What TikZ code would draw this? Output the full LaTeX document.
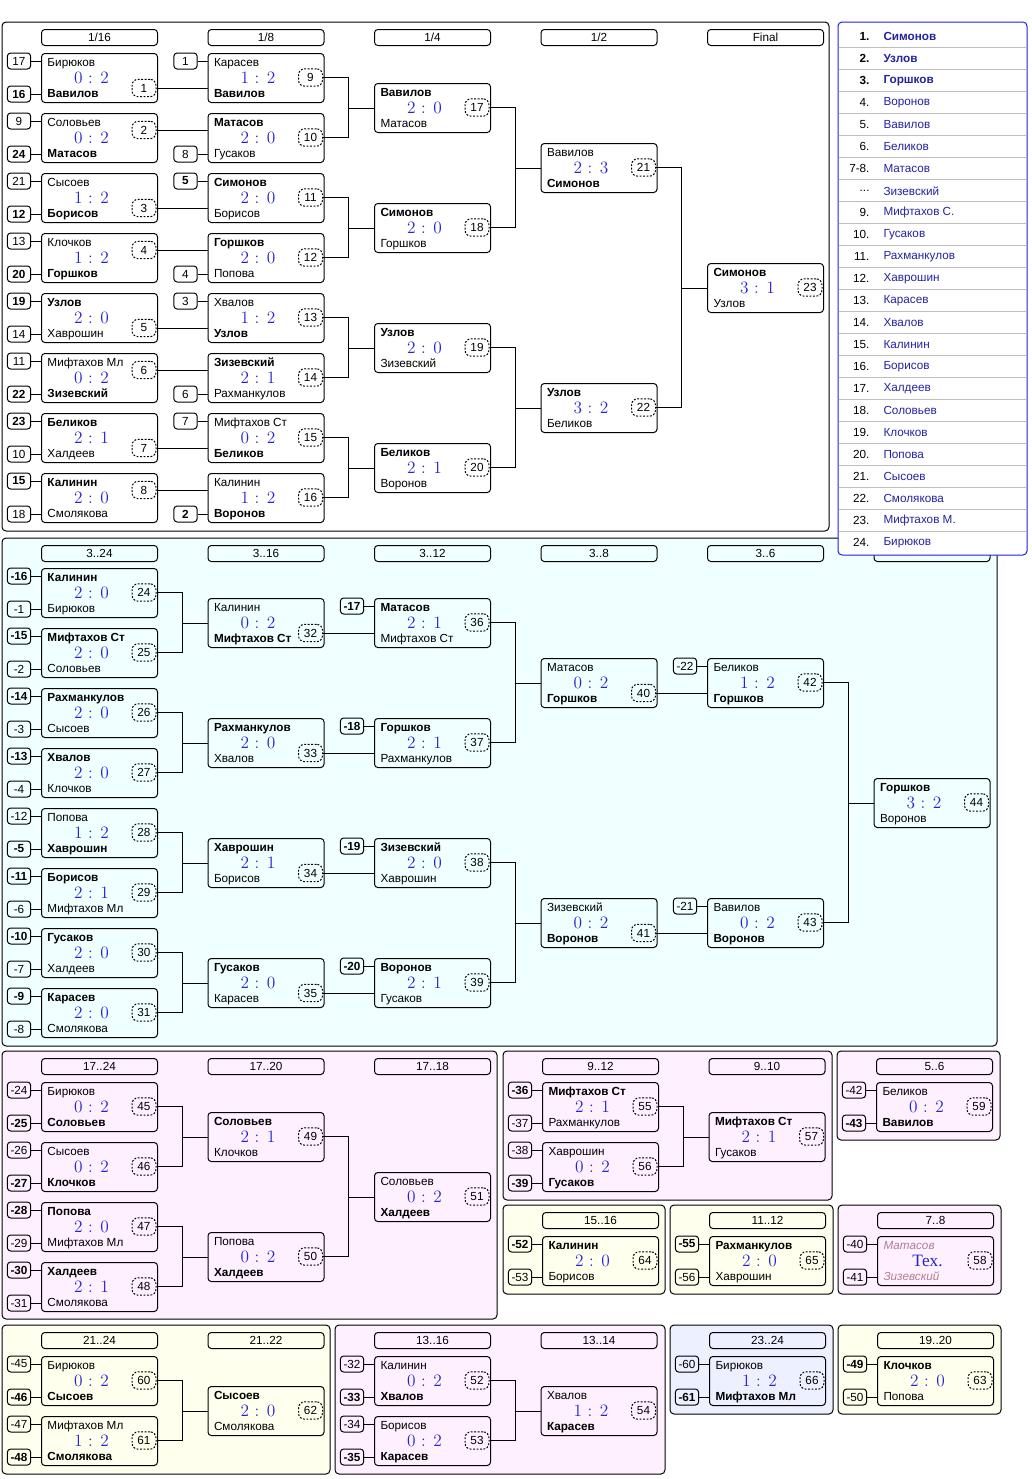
\documentclass[tikz,border=0pt]{standalone}
\usepackage{fontspec}
\setsansfont{Liberation Sans}
\newfontfamily\techfont{Liberation Serif}
\usetikzlibrary{calc}

\definecolor{scoreblue}{RGB}{36,36,210}
\definecolor{rankblue}{RGB}{36,36,160}
\definecolor{rankedge}{RGB}{30,30,230}
\definecolor{rankrulec}{RGB}{190,190,190}
\definecolor{forfeitrose}{RGB}{176,128,144}
\definecolor{cyanbg}{RGB}{240,255,255}
\definecolor{pinkbg}{RGB}{255,240,255}
\definecolor{ivorybg}{RGB}{255,255,238}
\definecolor{lavbg}{RGB}{236,240,255}

\tikzset{
    region/.style={draw=black,rounded corners=3pt},
    roundhead/.style={draw,rounded corners=2.5pt,anchor=north west,inner sep=0pt,minimum width=87pt,minimum height=12pt,font=\sffamily\fontsize{8.8}{10}\selectfont},
    gamebox/.style={draw,rounded corners=2.5pt,anchor=north west,inner sep=0pt,minimum width=87pt,minimum height=36.75pt},
    seedbox/.style={draw,rounded corners=2.5pt,inner sep=0pt,minimum width=17.5pt,minimum height=12pt,font=\sffamily\fontsize{8.8}{10}\selectfont},
    gamenum/.style={draw,dash pattern=on 1.4pt off 1.2pt,rounded corners=4.5pt,anchor=east,inner sep=0pt,minimum width=18pt,minimum height=13pt,font=\sffamily\fontsize{8.8}{10}\selectfont},
    player/.style={anchor=base west,inner sep=0pt,font=\sffamily\fontsize{8.8}{10}\selectfont},
    score/.style={inner sep=0pt,text=scoreblue,font=\rmfamily\fontsize{13}{13}\selectfont},
    rankframe/.style={draw=rankedge,fill=white,rounded corners=3pt},
    rankrule/.style={draw=rankrulec},
    rankno/.style={anchor=east,inner sep=0pt,font=\sffamily\fontsize{8.8}{10}\selectfont},
    rankname/.style={anchor=west,inner sep=0pt,text=rankblue,font=\sffamily\fontsize{8.8}{10}\selectfont}
}

\newcommand{\game}[7]{%
  \node[gamebox] (m#1) at (#2,#3) {};
  \node[player] (t#1) at (#2+6,#3+13.3) {#4};
  \node[score] (r#1) at (#2+50.5,#3+24.5) {#5};
  \node[player] (b#1) at (#2+6,#3+44) {#6};
  \node[gamenum] (n#1) at (#2+115.5,#3+#7) {#1};
}
\newcommand{\seedtop}[2]{%
  \node[seedbox] (s#1a) at ($(m#1.north west)+(-22,8)$) {#2};
  \draw (s#1a.east) -- (s#1a.east -| m#1.west);
}
\newcommand{\seedbot}[2]{%
  \node[seedbox] (s#1b) at ($(m#1.north west)+(-22,41)$) {#2};
  \draw (s#1b.east) -- (s#1b.east -| m#1.west);
}
\newcommand{\forfeit}[1]{\textcolor{forfeitrose}{\itshape #1}}
\newcommand{\sharedplace}{...}

\begin{document}
\begin{tikzpicture}[x=0.75pt,y=-0.75pt,line width=0.75pt]
\useasboundingbox (0,0) rectangle (1032,1479);

\draw[region,fill=white] (2,22) rectangle (829,531);
\draw[region,fill=cyanbg] (2,538) rectangle (997,1046);
\draw[region,fill=pinkbg] (2,1051) rectangle (497,1319);
\draw[region,fill=pinkbg] (503,1051) rectangle (832,1200);
\draw[region,fill=pinkbg] (837,1051) rectangle (1000,1140);
\draw[region,fill=ivorybg] (503,1205) rectangle (665,1294);
\draw[region,fill=ivorybg] (670,1205) rectangle (833,1294);
\draw[region,fill=pinkbg] (838,1205) rectangle (1001,1294);
\draw[region,fill=ivorybg] (2,1325) rectangle (330,1474);
\draw[region,fill=pinkbg] (335,1325) rectangle (665,1474);
\draw[region,fill=lavbg] (670,1325) rectangle (833,1414);
\draw[region,fill=ivorybg] (838,1325) rectangle (1001,1414);

\node[roundhead] (hT1) at (41,29) {1/16};
\node[roundhead] (hT2) at (207.5,29) {1/8};
\node[roundhead] (hT3) at (374,29) {1/4};
\node[roundhead] (hT4) at (540.5,29) {1/2};
\node[roundhead] (hT5) at (707,29) {Final};
\node[roundhead] (hC1) at (41,545) {3..24};
\node[roundhead] (hC2) at (207.5,545) {3..16};
\node[roundhead] (hC3) at (374,545) {3..12};
\node[roundhead] (hC4) at (540.5,545) {3..8};
\node[roundhead] (hC5) at (707,545) {3..6};
\node[roundhead] (hC6) at (873.5,545) {};
\node[roundhead] (hP1) at (41,1058) {17..24};
\node[roundhead] (hP2) at (207.5,1058) {17..20};
\node[roundhead] (hP3) at (374,1058) {17..18};
\node[roundhead] (hQ1) at (542,1058) {9..12};
\node[roundhead] (hQ2) at (708.5,1058) {9..10};
\node[roundhead] (hR1) at (876,1058) {5..6};
\node[roundhead] (hS1) at (542,1212) {15..16};
\node[roundhead] (hS2) at (709,1212) {11..12};
\node[roundhead] (hS3) at (877,1212) {7..8};
\node[roundhead] (hU1) at (41,1332) {21..24};
\node[roundhead] (hU2) at (207.5,1332) {21..22};
\node[roundhead] (hV1) at (374,1332) {13..16};
\node[roundhead] (hV2) at (540.5,1332) {13..14};
\node[roundhead] (hW1) at (709,1332) {23..24};
\node[roundhead] (hW2) at (877,1332) {19..20};

\game{1}{41}{53}{Бирюков}{0 : 2}{\textbf{Вавилов}}{35}
\game{2}{41}{113}{Соловьев}{0 : 2}{\textbf{Матасов}}{17}
\game{3}{41}{173}{Сысоев}{1 : 2}{\textbf{Борисов}}{35}
\game{4}{41}{233}{Клочков}{1 : 2}{\textbf{Горшков}}{17}
\game{5}{41}{293}{\textbf{Узлов}}{2 : 0}{Хаврошин}{35}
\game{6}{41}{353}{Мифтахов Мл}{0 : 2}{\textbf{Зизевский}}{17}
\game{7}{41}{413}{\textbf{Беликов}}{2 : 1}{Халдеев}{35}
\game{8}{41}{473}{\textbf{Калинин}}{2 : 0}{Смолякова}{17}
\game{9}{207.5}{53}{Карасев}{1 : 2}{\textbf{Вавилов}}{24.5}
\game{10}{207.5}{113}{\textbf{Матасов}}{2 : 0}{Гусаков}{24.5}
\game{11}{207.5}{173}{\textbf{Симонов}}{2 : 0}{Борисов}{24.5}
\game{12}{207.5}{233}{\textbf{Горшков}}{2 : 0}{Попова}{24.5}
\game{13}{207.5}{293}{Хвалов}{1 : 2}{\textbf{Узлов}}{24.5}
\game{14}{207.5}{353}{\textbf{Зизевский}}{2 : 1}{Рахманкулов}{24.5}
\game{15}{207.5}{413}{Мифтахов Ст}{0 : 2}{\textbf{Беликов}}{24.5}
\game{16}{207.5}{473}{Калинин}{1 : 2}{\textbf{Воронов}}{24.5}
\game{17}{374}{83}{\textbf{Вавилов}}{2 : 0}{Матасов}{24.5}
\game{18}{374}{203}{\textbf{Симонов}}{2 : 0}{Горшков}{24.5}
\game{19}{374}{323}{\textbf{Узлов}}{2 : 0}{Зизевский}{24.5}
\game{20}{374}{443}{\textbf{Беликов}}{2 : 1}{Воронов}{24.5}
\game{21}{540.5}{143}{Вавилов}{2 : 3}{\textbf{Симонов}}{24.5}
\game{22}{540.5}{383}{\textbf{Узлов}}{3 : 2}{Беликов}{24.5}
\game{23}{707}{263}{\textbf{Симонов}}{3 : 1}{Узлов}{24.5}

\game{24}{41}{568}{\textbf{Калинин}}{2 : 0}{Бирюков}{24.5}
\game{25}{41}{628}{\textbf{Мифтахов Ст}}{2 : 0}{Соловьев}{24.5}
\game{26}{41}{688}{\textbf{Рахманкулов}}{2 : 0}{Сысоев}{24.5}
\game{27}{41}{748}{\textbf{Хвалов}}{2 : 0}{Клочков}{24.5}
\game{28}{41}{808}{Попова}{1 : 2}{\textbf{Хаврошин}}{24.5}
\game{29}{41}{868}{\textbf{Борисов}}{2 : 1}{Мифтахов Мл}{24.5}
\game{30}{41}{928}{\textbf{Гусаков}}{2 : 0}{Халдеев}{24.5}
\game{31}{41}{988}{\textbf{Карасев}}{2 : 0}{Смолякова}{24.5}
\game{32}{207.5}{598}{Калинин}{0 : 2}{\textbf{Мифтахов Ст}}{35}
\game{33}{207.5}{718}{\textbf{Рахманкулов}}{2 : 0}{Хвалов}{35}
\game{34}{207.5}{838}{\textbf{Хаврошин}}{2 : 1}{Борисов}{35}
\game{35}{207.5}{958}{\textbf{Гусаков}}{2 : 0}{Карасев}{35}
\game{36}{374}{598}{\textbf{Матасов}}{2 : 1}{Мифтахов Ст}{24.5}
\game{37}{374}{718}{\textbf{Горшков}}{2 : 1}{Рахманкулов}{24.5}
\game{38}{374}{838}{\textbf{Зизевский}}{2 : 0}{Хаврошин}{24.5}
\game{39}{374}{958}{\textbf{Воронов}}{2 : 1}{Гусаков}{24.5}
\game{40}{540.5}{658}{Матасов}{0 : 2}{\textbf{Горшков}}{35}
\game{41}{540.5}{898}{Зизевский}{0 : 2}{\textbf{Воронов}}{35}
\game{42}{707}{658}{Беликов}{1 : 2}{\textbf{Горшков}}{24.5}
\game{43}{707}{898}{Вавилов}{0 : 2}{\textbf{Воронов}}{24.5}
\game{44}{873.5}{778}{\textbf{Горшков}}{3 : 2}{Воронов}{24.5}

\game{45}{41}{1082}{Бирюков}{0 : 2}{\textbf{Соловьев}}{24.5}
\game{46}{41}{1142}{Сысоев}{0 : 2}{\textbf{Клочков}}{24.5}
\game{47}{41}{1202}{\textbf{Попова}}{2 : 0}{Мифтахов Мл}{24.5}
\game{48}{41}{1262}{\textbf{Халдеев}}{2 : 1}{Смолякова}{24.5}
\game{49}{207.5}{1112}{\textbf{Соловьев}}{2 : 1}{Клочков}{24.5}
\game{50}{207.5}{1232}{Попова}{0 : 2}{\textbf{Халдеев}}{24.5}
\game{51}{374}{1172}{Соловьев}{0 : 2}{\textbf{Халдеев}}{24.5}
\game{55}{542}{1082}{\textbf{Мифтахов Ст}}{2 : 1}{Рахманкулов}{24.5}
\game{56}{542}{1142}{Хаврошин}{0 : 2}{\textbf{Гусаков}}{24.5}
\game{57}{708.5}{1112}{\textbf{Мифтахов Ст}}{2 : 1}{Гусаков}{24.5}
\game{59}{876}{1082}{Беликов}{0 : 2}{\textbf{Вавилов}}{24.5}
\game{64}{542}{1236}{\textbf{Калинин}}{2 : 0}{Борисов}{24.5}
\game{65}{709}{1236}{\textbf{Рахманкулов}}{2 : 0}{Хаврошин}{24.5}
\game{58}{877}{1236}{\forfeit{Матасов}}{{\techfont Тех.}}{\forfeit{Зизевский}}{24.5}
\game{60}{41}{1356}{Бирюков}{0 : 2}{\textbf{Сысоев}}{24.5}
\game{61}{41}{1416}{Мифтахов Мл}{1 : 2}{\textbf{Смолякова}}{24.5}
\game{62}{207.5}{1386}{\textbf{Сысоев}}{2 : 0}{Смолякова}{24.5}
\game{52}{374}{1356}{Калинин}{0 : 2}{\textbf{Хвалов}}{24.5}
\game{53}{374}{1416}{Борисов}{0 : 2}{\textbf{Карасев}}{24.5}
\game{54}{540.5}{1386}{Хвалов}{1 : 2}{\textbf{Карасев}}{24.5}
\game{66}{709}{1356}{Бирюков}{1 : 2}{\textbf{Мифтахов Мл}}{24.5}
\game{63}{877}{1356}{\textbf{Клочков}}{2 : 0}{Попова}{24.5}

\seedtop{1}{17}            \seedbot{1}{\textbf{16}}
\seedtop{2}{9}             \seedbot{2}{\textbf{24}}
\seedtop{3}{21}            \seedbot{3}{\textbf{12}}
\seedtop{4}{13}            \seedbot{4}{\textbf{20}}
\seedtop{5}{\textbf{19}}   \seedbot{5}{14}
\seedtop{6}{11}            \seedbot{6}{\textbf{22}}
\seedtop{7}{\textbf{23}}   \seedbot{7}{10}
\seedtop{8}{\textbf{15}}   \seedbot{8}{18}
\seedtop{9}{1}
\seedbot{10}{8}
\seedtop{11}{\textbf{5}}
\seedbot{12}{4}
\seedtop{13}{3}
\seedbot{14}{6}
\seedtop{15}{7}
\seedbot{16}{\textbf{2}}
\seedtop{24}{\textbf{-16}}  \seedbot{24}{-1}
\seedtop{25}{\textbf{-15}}  \seedbot{25}{-2}
\seedtop{26}{\textbf{-14}}  \seedbot{26}{-3}
\seedtop{27}{\textbf{-13}}  \seedbot{27}{-4}
\seedtop{28}{-12}           \seedbot{28}{\textbf{-5}}
\seedtop{29}{\textbf{-11}}  \seedbot{29}{-6}
\seedtop{30}{\textbf{-10}}  \seedbot{30}{-7}
\seedtop{31}{\textbf{-9}}   \seedbot{31}{-8}
\seedtop{36}{\textbf{-17}}
\seedtop{37}{\textbf{-18}}
\seedtop{38}{\textbf{-19}}
\seedtop{39}{\textbf{-20}}
\seedtop{42}{-22}
\seedtop{43}{-21}
\seedtop{45}{-24}           \seedbot{45}{\textbf{-25}}
\seedtop{46}{-26}           \seedbot{46}{\textbf{-27}}
\seedtop{47}{\textbf{-28}}  \seedbot{47}{-29}
\seedtop{48}{\textbf{-30}}  \seedbot{48}{-31}
\seedtop{55}{\textbf{-36}}  \seedbot{55}{-37}
\seedtop{56}{-38}           \seedbot{56}{\textbf{-39}}
\seedtop{59}{-42}           \seedbot{59}{\textbf{-43}}
\seedtop{64}{\textbf{-52}}  \seedbot{64}{-53}
\seedtop{65}{\textbf{-55}}  \seedbot{65}{-56}
\seedtop{58}{-40}           \seedbot{58}{-41}
\seedtop{60}{-45}           \seedbot{60}{\textbf{-46}}
\seedtop{61}{-47}           \seedbot{61}{\textbf{-48}}
\seedtop{52}{-32}           \seedbot{52}{\textbf{-33}}
\seedtop{53}{-34}           \seedbot{53}{\textbf{-35}}
\seedtop{66}{-60}           \seedbot{66}{\textbf{-61}}
\seedtop{63}{\textbf{-49}}  \seedbot{63}{-50}

\foreach \a/\b in {1/9,2/10,3/11,4/12,5/13,6/14,7/15,8/16,32/36,33/37,34/38,35/39,40/42,41/43}
  \draw (n\a.east) -- (n\a.east -| m\b.west);

\foreach \a/\b/\c in {9/10/17,11/12/18,13/14/19,15/16/20,17/18/21,19/20/22,21/22/23,24/25/32,26/27/33,28/29/34,30/31/35,36/37/40,38/39/41,42/43/44,45/46/49,47/48/50,49/50/51,55/56/57,60/61/62,52/53/54}{
  \coordinate (j\c) at ($(m\c.west)+(-25.25,0)$);
  \draw (n\a.east) -| (j\c) |- (n\b.east);
  \draw (j\c) -- (m\c.west);
}

\draw[rankframe] (838,22) rectangle (1027,555);
\foreach \k in {0,...,22}
  \draw[rankrule] (838.5,47.7+22*\k) -- (1026.5,47.7+22*\k);
\foreach \p/\q [count=\i from 0] in {\textbf{1.}/\textbf{Симонов},\textbf{2.}/\textbf{Узлов},\textbf{3.}/\textbf{Горшков},4./Воронов,5./Вавилов,6./Беликов,7-8./Матасов,\sharedplace/Зизевский,9./Мифтахов С.,10./Гусаков,11./Рахманкулов,12./Хаврошин,13./Карасев,14./Хвалов,15./Калинин,16./Борисов,17./Халдеев,18./Соловьев,19./Клочков,20./Попова,21./Сысоев,22./Смолякова,23./Мифтахов М.,24./Бирюков}{
  \node[rankno] (rk\i) at (870,36.7+22*\i) {\p};
  \node[rankname] (rn\i) at (883,36.7+22*\i) {\q};
}

\end{tikzpicture}
\end{document}
